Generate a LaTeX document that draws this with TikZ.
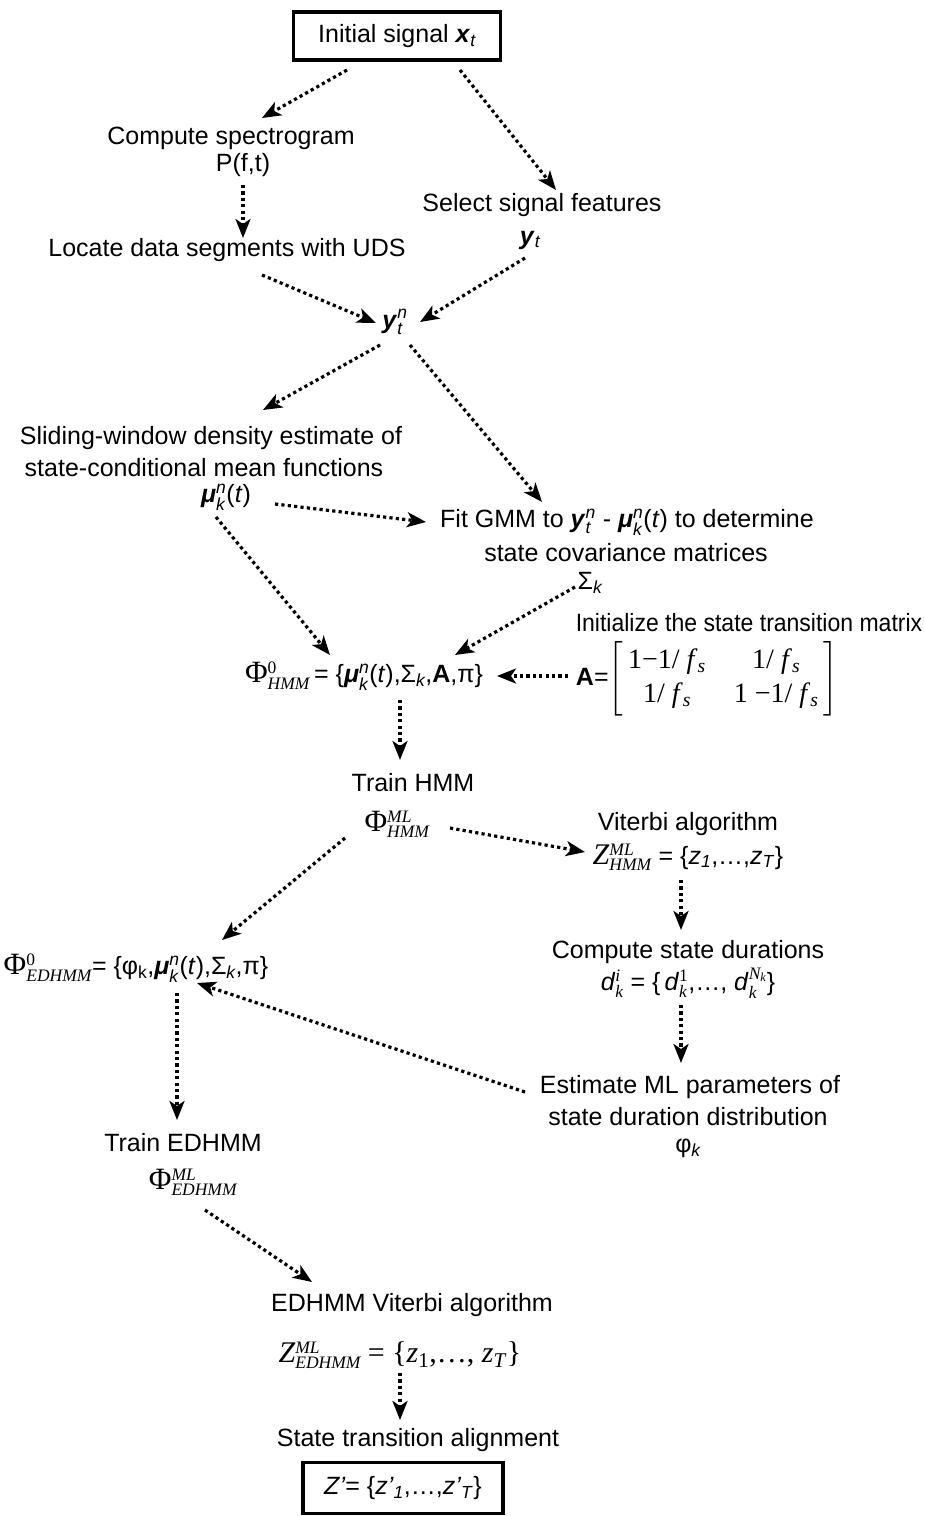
\documentclass[tikz,border=0pt]{standalone}
\usepackage{amsmath}
\usepackage{graphicx}
\usepackage{fontspec}
\setmainfont{Liberation Sans}
\newfontfamily\tms{Liberation Serif}
\usetikzlibrary{arrows.meta,calc}
\newcommand{\bi}[1]{\textbf{\textit{#1}}}
\newcommand{\SupSub}[2]{\ensuremath{^{\text{#1}}_{\text{#2}}}}
\newcommand{\Phis}{{\tms\fontsize{31}{31}\selectfont Φ}}
\begin{document}
\begin{tikzpicture}[x=1pt,y=-1pt,
  txt/.style={inner sep=0pt, font=\fontsize{25}{30}\selectfont, align=center},
  boxed/.style={txt, draw, line width=3.6pt},
  arr/.style={line width=3.2pt, dash pattern=on 3.2pt off 3.2pt, -{Stealth[length=19pt,width=15pt,inset=5pt]}}]
\useasboundingbox (0,0) rectangle (925,1516);
% nodes
\node[boxed, minimum width=207pt, minimum height=48pt] (init) at (397,36) {Initial signal \bi{x}\ensuremath{_{\text{\itshape t}}}};
\node[txt] (spec) at (231,138) {Compute spectrogram};
\node[txt] (pft) at (243,165) {P(f,t)};
\node[txt] (sel) at (542,205) {Select signal features};
\node[txt] (yt) at (530,240) {\bi{y}\ensuremath{_{\text{\itshape t}}}};
\node[txt] (loc) at (227,250) {Locate data segments with UDS};
\node[txt] (ytn) at (395,322) {\bi{y}\SupSub{\itshape n}{\itshape t}};
\node[txt] (sl1) at (211,438) {Sliding-window density estimate of};
\node[txt] (sl2) at (204,468) {state-conditional mean functions};
\node[txt] (mu) at (226,497) {\bi{μ}\SupSub{\itshape n}{\itshape k}(\textit{t})};
\node[txt] (fit1) at (627,522) {Fit GMM to \bi{y}\SupSub{\itshape n}{\itshape t} - \bi{μ}\SupSub{\itshape n}{\itshape k}(\textit{t}) to determine};
\node[txt] (fit2) at (626,553) {state covariance matrices};
\node[txt] (sig) at (590,583) {Σ\ensuremath{_{\text{\itshape k}}}};
\node[txt] (initA) at (749,623) {\scalebox{0.92}[1]{Initialize the state transition matrix}};
\node[txt] (phi0) at (364,676) {\Phis\SupSub{\tms 0}{\tms\itshape HMM}\,= \{\bi{μ}\SupSub{\itshape n}{\itshape k}(\textit{t}),Σ\ensuremath{_{\text{\itshape k}}},\textbf{A},π\}};
\node[txt] (amat) at (707,679) {\textbf{A}=\renewcommand{\arraystretch}{1.12}$\left[\begin{array}{@{\hspace{5pt}}c@{\hspace{28pt}}c@{\hspace{5pt}}}
  \text{\tms\fontsize{28}{30}\selectfont 1−1/ \textit{f}\textsubscript{\textit{s}}} & \text{\tms\fontsize{28}{30}\selectfont 1/ \textit{f}\textsubscript{\textit{s}}}\\
  \text{\tms\fontsize{28}{30}\selectfont 1/ \textit{f}\textsubscript{\textit{s}}} & \text{\tms\fontsize{28}{30}\selectfont 1 −1/ \textit{f}\textsubscript{\textit{s}}}
  \end{array}\right]$};
\node[txt] (trainl) at (413,783) {Train HMM};
\node[txt] (phiml) at (397,824) {\Phis\SupSub{\tms\itshape ML}{\tms\itshape HMM}};
\node[txt] (vit) at (688,824) {Viterbi algorithm};
\node[txt] (zhmm) at (688,857) {{\tms\itshape\fontsize{30}{30}\selectfont Z}\SupSub{\tms\itshape ML}{\tms\itshape HMM} = \{\textit{z}\textsubscript{\textit{1}},…,\textit{z}\textsubscript{\textit{T}}\}};
\node[txt] (phiE) at (136,968) {\Phis\SupSub{\tms 0}{\tms\itshape EDHMM}= \{φ\textsubscript{k},\bi{μ}\SupSub{\itshape n}{\itshape k}(\textit{t}),Σ\ensuremath{_{\text{\itshape k}}},π\}};
\node[txt] (dur) at (688,952) {Compute state durations};
\node[txt] (dk) at (688,983) {\textit{d}\SupSub{\tms\itshape i}{\tms\itshape k} = \{\,\textit{d}\SupSub{\tms 1}{\tms\itshape k},…, \textit{d}\SupSub{\tms\itshape N\textsubscript{k}}{\tms\itshape k}\}};
\node[txt] (est1) at (690,1087) {Estimate ML parameters of};
\node[txt] (est2) at (688,1117) {state duration distribution};
\node[txt] (phik) at (688,1148) {φ\ensuremath{_{\text{\itshape k}}}};
\node[txt] (trainE) at (183,1143) {Train EDHMM};
\node[txt] (phimlE) at (193,1182) {\Phis\SupSub{\tms\itshape ML}{\tms\itshape EDHMM}};
\node[txt] (evit) at (412,1305) {EDHMM Viterbi algorithm};
\node[txt] (zE) at (400,1355) {{\tms\itshape\fontsize{30}{30}\selectfont Z}\SupSub{\tms\itshape ML}{\tms\itshape EDHMM} {\tms\fontsize{30}{30}\selectfont = \{\textit{z}\textsubscript{1},…, \textit{z}\textsubscript{\textit{T}}\}}};
\node[txt] (align) at (418,1440) {State transition alignment};
\node[boxed, minimum width=200pt, minimum height=51pt] (final) at (403,1488) {\textit{Z’}= \{\textit{z’}\textsubscript{\textit{1}},…,\textit{z’}\textsubscript{\textit{T}}\}};
% connectors
\draw[arr] ($(init)+(-50,34)$) -- ($(spec)+(31,-20)$);
\draw[arr] ($(init)+(63,34)$) -- ($(sel)+(14,-15)$);
\draw[arr] ($(pft)+(0,20)$) -- ($(loc)+(16,-12)$);
\draw[arr] ($(loc)+(35,25)$) -- ($(ytn)+(-19,1)$);
\draw[arr] ($(yt)+(-5,18)$) -- ($(ytn)+(25,0)$);
\draw[arr] ($(ytn)+(-15,23)$) -- ($(sl1)+(52,-28)$);
\draw[arr] ($(ytn)+(15,23)$) -- ($(fit1)+(-85,-20)$);
\draw[arr] ($(mu)+(49,7)$) -- ($(fit1)+(-201,0)$);
\draw[arr] ($(mu)+(-10,20)$) -- ($(phi0)+(-34,-21)$);
\draw[arr] ($(sig)+(-15,4)$) -- ($(phi0)+(91,-21)$);
\draw[arr] ($(amat)+(-139,-3)$) -- ($(phi0)+(133,0)$);
\draw[arr] ($(phi0)+(36,24)$) -- ($(trainl)+(-13,-23)$);
\draw[arr] ($(phiml)+(53,4)$) -- ($(zhmm)+(-103,-5)$);
\draw[arr] ($(phiml)+(-52,14)$) -- ($(phiE)+(86,-28)$);
\draw[arr] ($(zhmm)+(-7,23)$) -- ($(dur)+(-7,-22)$);
\draw[arr] ($(dk)+(-7,22)$) -- ($(est1)+(-9,-24)$);
\draw[arr] ($(est1)+(-165,5)$) -- ($(phiE)+(61,15)$);
\draw[arr] ($(phiE)+(41,25)$) -- ($(trainE)+(-6,-23)$);
\draw[arr] ($(phimlE)+(12,28)$) -- ($(evit)+(-100,-23)$);
\draw[arr] ($(zE)+(0,18)$) -- ($(align)+(-18,-20)$);
\end{tikzpicture}
\end{document}
